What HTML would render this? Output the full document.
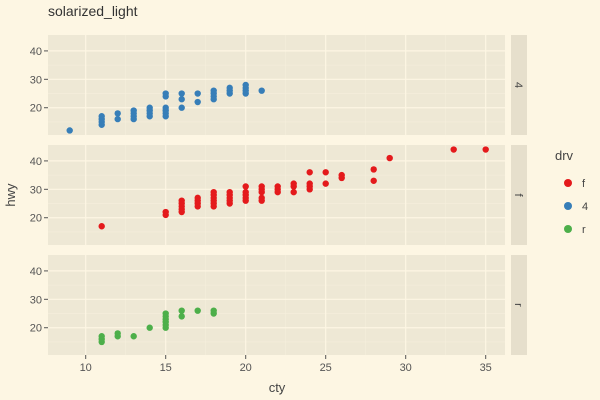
<!DOCTYPE html>
<html><head><meta charset="utf-8"><style>
body{margin:0;background:#fdf6e3;}
svg{display:block;font-family:"Liberation Sans",sans-serif;}
</style></head><body>
<svg id="c" width="600" height="400">
<rect width="600" height="400" fill="#fdf6e3"/>
<text x="48" y="16" font-size="14" fill="#333">solarized_light</text>
<text x="277" y="392" font-size="13" fill="#444" text-anchor="middle">cty</text>
<text transform="translate(15,195) rotate(-90)" font-size="13" fill="#444" text-anchor="middle">hwy</text>
<g>
<text x="555" y="160" font-size="13" fill="#444">drv</text>
</g>
</svg>
<script>
const facets=["4","f","r"];
const colors=["#e41a1c","#377eb8","#4daf4a"];
const legendKeys=["f","4","r"];
const xTicks=[10,15,20,25,30,35];
const yTicks=[20,30,40];
const cty4=[9,11,11,11,11,12,12,13,13,13,13,14,14,14,14,15,15,15,15,15,15,16,16,16,17,17,18,18,18,18,19,19,19,20,20,20,20,21];
const hwy4=[12,14,15,16,17,16,18,16,17,18,19,17,18,19,20,17,18,19,20,24,25,20,23,25,22,25,23,24,25,26,25,26,27,25,26,27,28,26];
const ctyF=[11,15,15,16,16,16,16,16,17,17,17,17,18,18,18,18,18,18,19,19,19,19,19,20,20,20,20,20,21,21,21,21,21,22,22,22,23,23,23,24,24,24,24,25,25,26,26,28,28,29,33,35];
const hwyF=[17,21,22,22,23,24,25,26,24,25,26,27,24,25,26,27,28,29,25,26,27,28,29,26,27,28,29,31,26,27,29,30,31,29,30,31,29,31,32,30,31,32,36,32,36,34,35,33,37,41,44,44];
const ctyR=[11,11,11,12,12,13,14,15,15,15,15,15,15,16,16,17,18,18];
const hwyR=[15,16,17,17,18,17,20,20,21,22,23,24,25,24,26,26,25,26];
const series=[[cty4,hwy4,1],[ctyF,hwyF,0],[ctyR,hwyR,2]];
const NS="http://www.w3.org/2000/svg";
const svg=document.getElementById('c');
const L=48,R=505,PH=100;
const tops=[35,145,255];
const X=v=>85.7+(v-10)*16;
const Y=(v,t)=>t+100-(v-10.4)*(100/35.2);
function mk(tag,a){const e=document.createElementNS(NS,tag);for(const k in a)e.setAttribute(k,a[k]);svg.appendChild(e);return e;}
facets.forEach((f,i)=>{
 const t=tops[i];
 const p=mk('rect',{x:L,y:t,width:R-L,height:PH,fill:'#eee8d5'});
 
 
 for(let v=12.5;v<37;v+=5){const g=mk('line',{x1:X(v),x2:X(v),y1:t,y2:t+PH,stroke:'#f6efdc','stroke-width':0.6});
  }
 [15,25,35].forEach(v=>{const g=mk('line',{x1:L,x2:R,y1:Y(v,t),y2:Y(v,t),stroke:'#f6efdc','stroke-width':0.6});
  });
 xTicks.forEach(v=>{const g=mk('line',{x1:X(v),x2:X(v),y1:t,y2:t+PH,stroke:'#fdf6e3','stroke-width':1.2});
  });
 yTicks.forEach(v=>{const g=mk('line',{x1:L,x2:R,y1:Y(v,t),y2:Y(v,t),stroke:'#fdf6e3','stroke-width':1.2});
  
  const tk=mk('line',{x1:L-4,x2:L,y1:Y(v,t),y2:Y(v,t),stroke:'#555','stroke-width':1});
  
  const tx=mk('text',{x:L-6,y:Y(v,t)+4,'font-size':11,fill:'#555','text-anchor':'end'});tx.textContent=v;
  });
 const s=mk('rect',{x:511,y:t,width:16,height:PH,fill:'#e6dfcc'});
 
 const st=mk('text',{transform:`translate(515,${t+50}) rotate(90)`,'font-size':11,fill:'#444','text-anchor':'middle'});st.textContent=f;
 
 const [xs,ys,ci]=series[i];
 xs.forEach((x,j)=>{const c=mk('circle',{cx:X(x),cy:Y(ys[j],t),r:3.2,fill:colors[ci]});
  });
});
xTicks.forEach(v=>{const tk=mk('line',{x1:X(v),x2:X(v),y1:355,y2:359,stroke:'#555'});
 
 const tx=mk('text',{x:X(v),y:371,'font-size':11,fill:'#555','text-anchor':'middle'});tx.textContent=v;
 });
legendKeys.forEach((k,i)=>{const y=183+i*23;
 const c=mk('circle',{cx:568,cy:y,r:4,fill:colors[i]});
 
 const tx=mk('text',{x:582,y:y+4,'font-size':11,fill:'#444'});tx.textContent=k;
 });
</script>
</body></html>
